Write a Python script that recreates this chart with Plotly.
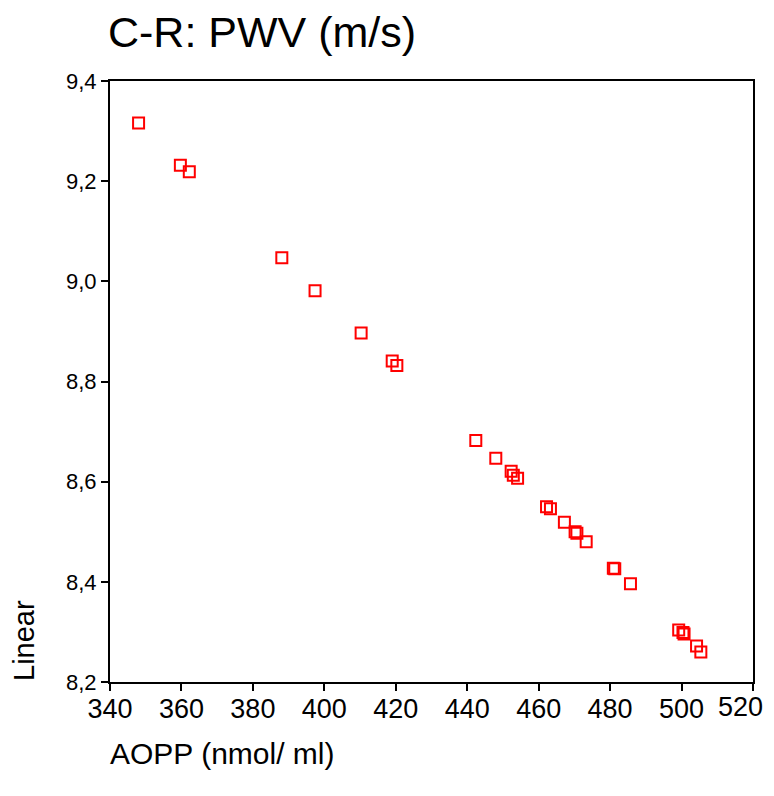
import plotly.graph_objects as go

# AOPP (nmol/ml) vs PWV (m/s)
aopp = [348.0, 359.7, 362.2, 388.1, 397.4, 410.3, 419.0, 420.3, 442.4, 448.0,
        452.3, 452.9, 454.1, 462.2, 463.3, 467.2, 470.2, 470.7, 473.3, 480.9,
        481.3, 485.7, 499.2, 500.4, 500.7, 504.2, 505.4]
pwv = [9.316, 9.232, 9.219, 9.047, 8.981, 8.897, 8.841, 8.832, 8.682, 8.647,
       8.621, 8.613, 8.607, 8.550, 8.546, 8.519, 8.500, 8.497, 8.480, 8.427,
       8.426, 8.396, 8.304, 8.299, 8.296, 8.272, 8.260]

x_ticks = [340, 360, 380, 400, 420, 440, 460, 480, 500, 520]
y_ticks = [8.2, 8.4, 8.6, 8.8, 9.0, 9.2, 9.4]

OFF = 8  # page body margin
W, H = 774 - OFF, 796 - 2 * OFF
L, T = 110 - OFF, 81 - OFF
R = OFF + W - 753
B = OFF + H - 682
pw, ph = W - L - R, H - T - B

fig = go.Figure()
fig.add_trace(go.Scatter(
    x=aopp, y=pwv, mode="markers",
    marker=dict(symbol="square-open", size=11, color="#ff0000",
                line=dict(color="#ff0000", width=2)),
    hoverinfo="skip", showlegend=False))

font_main = "Liberation Sans, Arial, sans-serif"

# last tick label is drawn as an annotation so it stays inside the page edge
x_ticktext = [str(v) for v in x_ticks[:-1]] + [""]

fig.update_layout(
    width=W, height=H, autosize=False,
    margin=dict(l=L, r=R, t=T, b=B, autoexpand=False),
    paper_bgcolor="white", plot_bgcolor="white",
    separators=",.",
    font=dict(family=font_main, color="black"),
    title=dict(text="C-R: PWV (m/s)", font=dict(family=font_main, size=43, color="black"),
               xref="container", x=(108 - OFF) / W, xanchor="left",
               yref="container", y=1 - (32 - OFF) / H, yanchor="middle",
               automargin=False),
    xaxis=dict(range=[340, 520], tickvals=x_ticks, ticktext=x_ticktext,
               showgrid=False, zeroline=False, automargin=False,
               showline=True, linecolor="black", linewidth=2, mirror=True,
               ticks="outside", ticklen=7, tickwidth=2, tickcolor="black",
               ticklabelstandoff=-5, ticklabeloverflow="allow",
               tickfont=dict(family=font_main, size=27, color="black")),
    yaxis=dict(range=[8.2, 9.4], tickvals=y_ticks, tickformat=".1f",
               showgrid=False, zeroline=False, automargin=False,
               showline=True, linecolor="black", linewidth=2, mirror=True,
               ticks="outside", ticklen=7, tickwidth=2, tickcolor="black",
               tickfont=dict(family=font_main, size=22, color="black")),
)

fig.add_annotation(text=str(x_ticks[-1]), xref="x", yref="paper",
                   x=x_ticks[-1], y=(682 - 707) / ph, xshift=12,
                   xanchor="right", yanchor="middle", showarrow=False,
                   font=dict(family=font_main, size=27, color="black"))
fig.add_annotation(text="AOPP (nmol/ ml)", xref="paper", yref="paper",
                   x=(108 - 110) / pw, y=(682 - 754) / ph,
                   xanchor="left", yanchor="middle", showarrow=False,
                   font=dict(family=font_main, size=30, color="black"))
fig.add_annotation(text="Linear", xref="paper", yref="paper",
                   x=(24 - 110) / pw, y=(682 - 641) / ph, textangle=-90,
                   xanchor="center", yanchor="middle", showarrow=False,
                   font=dict(family=font_main, size=29, color="black"))

fig.write_html("out.html")
